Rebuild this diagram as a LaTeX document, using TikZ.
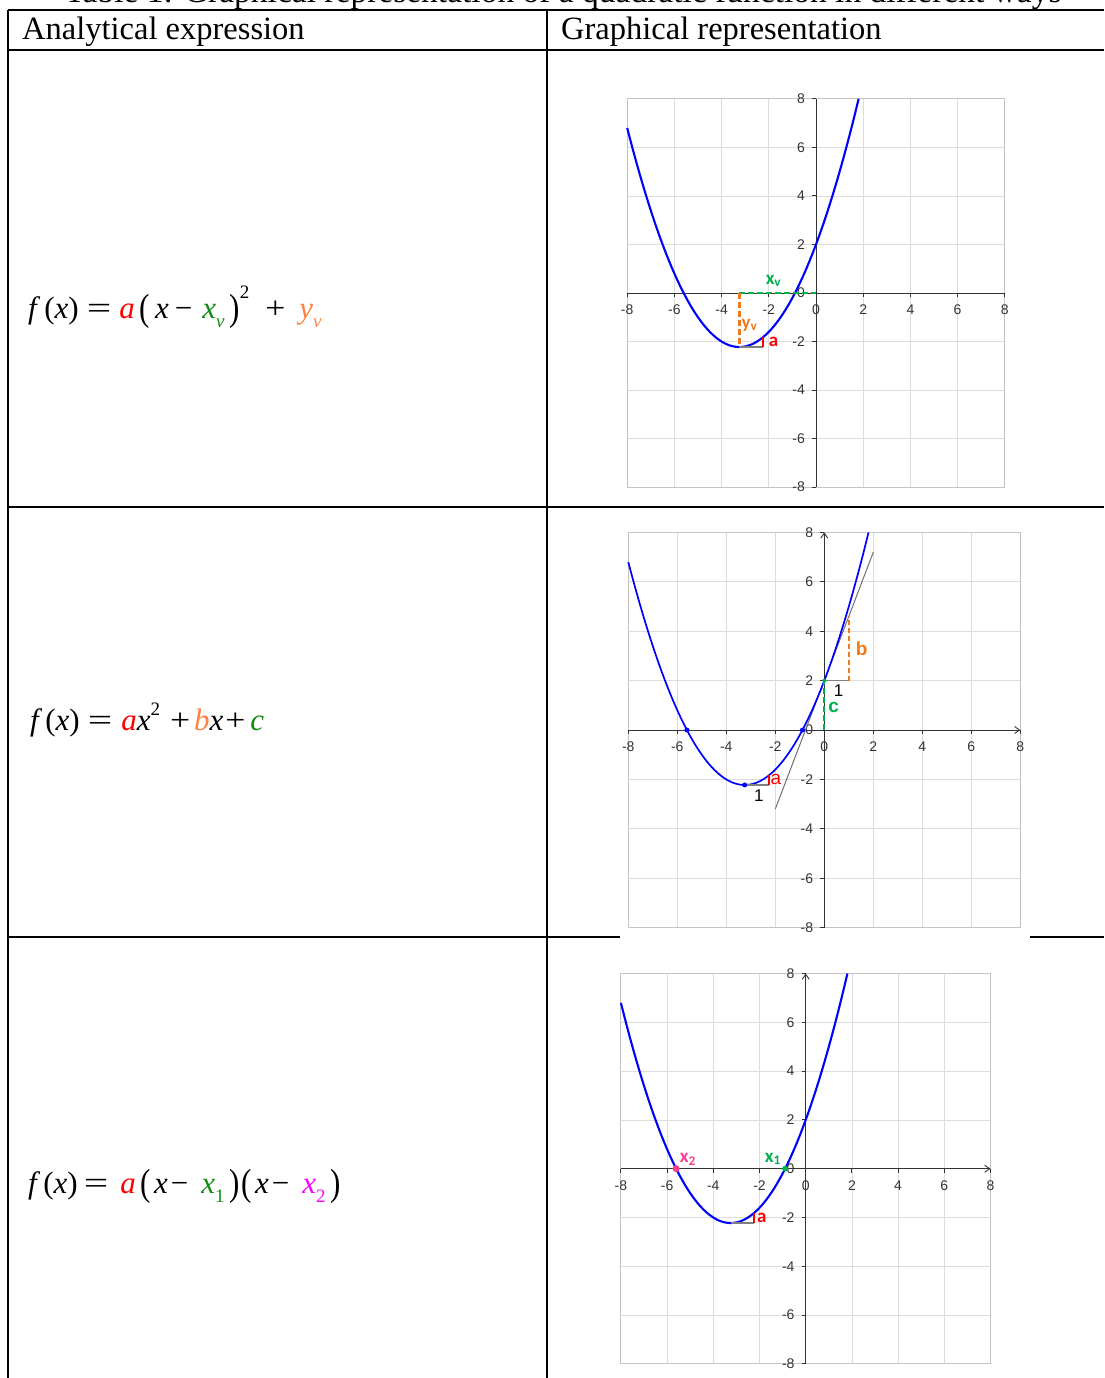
\documentclass[tikz,border=0pt]{standalone}
\usepackage{fontspec}
\usepackage{graphicx}
\setmainfont{Liberation Serif}
\newfontfamily\grf{Liberation Sans}
\newfontfamily\carl{Carlito}
\usetikzlibrary{arrows.meta}
\definecolor{gridc}{HTML}{DCDCDC}
\definecolor{boxc}{HTML}{C4C4C4}
\definecolor{axc}{HTML}{333333}
\definecolor{gG}{HTML}{00B050}
\definecolor{gO}{HTML}{EE7A1C}
\definecolor{gP}{HTML}{FF3C8C}
\definecolor{fG}{HTML}{138A13}
\definecolor{fO}{HTML}{FF8040}
\definecolor{fM}{HTML}{FF00FF}
\definecolor{tang}{HTML}{707070}
\newcommand\sbs[1]{\raisebox{-0.3em}{\fontsize{19}{19}\selectfont #1}}
\newcommand\sps[2]{\raisebox{#1}{\fontsize{19}{19}\selectfont #2}}
\newcommand\bigpar[1]{\raisebox{-0.07em}{\scalebox{1}[1.22]{#1}}}
\newcommand\eqs{\scalebox{1.4}[1]{=}}
\newcommand\pls{\scalebox{1.15}[1]{+}}
\newcommand\gridbox{%
  \foreach \t in {-6,-4,...,6}{\draw[gridline] (\t,-8) -- (\t,8); \draw[gridline] (-8,\t) -- (8,\t);}
  \draw[boxline] (-8,-8) rectangle (8,8);}
\newcommand\ticklabels[1]{%
  \foreach \t in {-8,-6,...,8}{
    \draw[axline] (\t,0) -- ++(0pt,-4pt);
    \draw[axline] (0,\t) -- ++(-4pt,0pt);
    \node[ticklab] (#1x\t) at ([yshift=-17pt]\t,0) {\t};
    \node[ticklab, anchor=east] (#1y\t) at ([xshift=-11pt]0,\t) {\t};}}
\begin{document}
\begin{tikzpicture}[x=1pt,y=-1pt,
  tline/.style={line width=1.7pt, black},
  gridline/.style={draw=gridc, line width=0.8pt},
  boxline/.style={draw=boxc, line width=1pt},
  axline/.style={draw=axc, line width=0.9pt},
  curve/.style={draw=blue, line width=2.1pt},
  ticklab/.style={font=\grf\fontsize{14}{14}\selectfont, text=axc, inner sep=0pt},
  hdr/.style={font=\fontsize{32.5}{32.5}\selectfont, anchor=base west, inner sep=0pt},
  fml/.style={font=\fontsize{31}{31}\selectfont, anchor=base west, inner sep=0pt},
  lbl/.style={font=\carl\bfseries\fontsize{19}{19}\selectfont, inner sep=0pt},
  alb/.style={font=\grf\fontsize{17}{17}\selectfont, inner sep=0pt},
  gdash/.style={draw=gG, line width=2.4pt, dash pattern=on 6pt off 3pt},
  odash/.style={draw=gO, line width=2.4pt, dash pattern=on 6pt off 3pt},
  runl/.style={draw=gray, line width=1.2pt},
  risel/.style={draw=red, line width=2pt},
  dot/.style={circle, inner sep=0pt, minimum size=5pt},
]
\useasboundingbox (0,0) rectangle (1104,1378);
\clip (0,0) rectangle (1104,1378);
% caption (cut off at top)
\node[font=\fontsize{33.5}{33.5}\selectfont, anchor=base, inner sep=0pt] (cap) at (563,3) {Table 1: Graphical representation of a quadratic function in different ways};
% table rules
\draw[tline] (8,10) -- (1104,10);
\draw[tline] (8,50) -- (1104,50);
\draw[tline] (8,507) -- (1104,507);
\draw[tline] (8,937) -- (620,937);
\draw[tline] (1030,937) -- (1104,937);
\draw[tline] (8,10) -- (8,1378);
\draw[tline] (547,10) -- (547,1378);
\node[hdr] (h1) at (22,40) {Analytical expression};
\node[hdr] (h2) at (561,40) {Graphical representation};
% formulas
\node[fml] (f1) at (28,318) {\textit{f}\hspace{4pt}(\textit{x})\hspace{8pt}\eqs\hspace{8pt}\textcolor{red}{\textit{a}}\hspace{5pt}\bigpar{(}\hspace{5pt}\textit{x}\hspace{6pt}−\hspace{10pt}\textcolor{fG}{\textit{x}\sbs{\textit{v}}}\hspace{5pt}\bigpar{)}\sps{0.62em}{2}\hspace{16pt}\pls\hspace{14pt}\textcolor{fO}{\textit{y}\sbs{\textit{v}}}};
\node[fml] (f2) at (30,730) {\textit{f}\hspace{3pt}(\textit{x})\hspace{8pt}\eqs\hspace{9pt}\textcolor{red}{\textit{a}}\textit{x}\sps{0.48em}{2}\hspace{10pt}\pls\hspace{4pt}\textcolor{fO}{\textit{b}}\textit{x}\hspace{2pt}\pls\hspace{5pt}\textcolor{fG}{\textit{c}}};
\node[fml] (f3) at (28,1193) {\textit{f}\hspace{3pt}(\textit{x})\hspace{6pt}\eqs\hspace{12pt}\textcolor{red}{\textit{a}}\hspace{5pt}\bigpar{(}\hspace{3pt}\textit{x}\hspace{3pt}−\hspace{13pt}\textcolor{fG}{\textit{x}\sbs{1}}\hspace{5pt}\bigpar{)}\hspace{2pt}\bigpar{(}\hspace{3pt}\textit{x}\hspace{3pt}−\hspace{13pt}\textcolor{fM}{\textit{x}\sbs{2}}\hspace{5pt}\bigpar{)}};
% ---------- graph 1
\begin{scope}[shift={(816pt,-293pt)}, x=23.6pt, y=24.27pt]
  \gridbox
  \draw[axline] (-8,0) -- (8,0);
  \draw[axline] (0,-8) -- (0,8);
  \ticklabels{ga}
  \draw[curve] plot[domain=-8:1.806, samples=120, smooth] (\x,{0.4*\x*\x+2.6*\x+2});
  \coordinate (av) at (-3.25,-2.225);
  \coordinate (ax) at (-3.25,0);
  \coordinate (ao) at (0,0);
  \coordinate (ar) at (-2.25,-2.225);
  \coordinate (au) at (-2.25,-1.825);
  \draw[gdash] (ax) -- (ao);
  \draw[odash] (ax) -- (av);
  \draw[runl] (av) -- (ar);
  \draw[risel] (ar) -- (au);
  \node[lbl, text=gG] (axv) at (-1.8,0.5) {x\textsubscript{v}};
  \node[lbl, text=gO] (ayv) at (-2.82,-1.32) {y\textsubscript{v}};
  \node[lbl, text=red] (aa) at (-1.8,-2.0) {a};
\end{scope}
% ---------- graph 2
\begin{scope}[shift={(824.3pt,-730pt)}, x=24.5pt, y=24.7pt]
  \gridbox
  \draw[axline, -{Straight Barb[length=5pt,width=7pt]}] (-8,0) -- (8,0);
  \draw[axline, -{Straight Barb[length=5pt,width=7pt]}] (0,-8) -- (0,8);
  \ticklabels{gb}
  \draw[draw=tang, line width=1pt] (-2,-3.2) -- (2,7.2);
  \draw[curve, line width=1.7pt] plot[domain=-8:1.806, samples=120, smooth] (\x,{0.4*\x*\x+2.6*\x+2});
  \coordinate (bv) at (-3.25,-2.225);
  \coordinate (br) at (-2.25,-2.225);
  \coordinate (bu) at (-2.25,-1.825);
  \coordinate (bo) at (0,0);
  \coordinate (bc) at (0,2);
  \coordinate (b1) at (1,2);
  \coordinate (bt) at (1,4.6);
  \draw[gdash, line width=2.2pt] (bo) -- (bc);
  \draw[runl] (bc) -- (b1);
  \draw[odash, line width=1.8pt, dash pattern=on 5pt off 3pt] (b1) -- (bt);
  \draw[runl] (bv) -- (br);
  \draw[risel] (br) -- (bu);
  \node[dot, fill=blue] (bd1) at (-5.609,0) {};
  \node[dot, fill=blue] (bd2) at (-0.891,0) {};
  \node[dot, fill=blue] (bd3) at (bv) {};
  \node[dot, fill=gG, minimum size=4pt] (bd4) at (bc) {};
  \node[alb, text=gO, font=\grf\bfseries\fontsize{19}{19}\selectfont] (bb) at (1.53,3.3) {b};
  \node[alb, text=black] (bn1) at (0.58,1.58) {1};
  \node[alb, text=gG, font=\grf\bfseries\fontsize{19}{19}\selectfont] (bcc) at (0.38,0.9) {c};
  \node[alb, text=red, font=\grf\fontsize{19}{19}\selectfont] (ba) at (-1.98,-2.02) {a};
  \node[alb, text=black] (bn2) at (-2.67,-2.65) {1};
\end{scope}
% ---------- graph 3
\begin{scope}[shift={(805.7pt,-1168.7pt)}, x=23.1pt, y=24.4pt]
  \gridbox
  \draw[axline, -{Straight Barb[length=5pt,width=7pt]}] (-8,0) -- (8,0);
  \draw[axline, -{Straight Barb[length=5pt,width=7pt]}] (0,-8) -- (0,8);
  \ticklabels{gc}
  \draw[curve] plot[domain=-8:1.806, samples=120, smooth] (\x,{0.4*\x*\x+2.6*\x+2});
  \coordinate (cv) at (-3.25,-2.225);
  \coordinate (cr) at (-2.25,-2.225);
  \coordinate (cu) at (-2.25,-1.825);
  \draw[runl] (cv) -- (cr);
  \draw[risel] (cr) -- (cu);
  \node[dot, fill=gP, minimum size=7pt] (cd2) at (-5.609,0) {};
  \node[dot, fill=gG, minimum size=6pt] (cd1) at (-0.891,0) {};
  \node[lbl, text=gP] (cx2) at (-5.1,0.38) {x\textsubscript{2}};
  \node[lbl, text=gG] (cx1) at (-1.42,0.4) {x\textsubscript{1}};
  \node[lbl, text=red] (ca) at (-1.9,-2.02) {a};
\end{scope}
\end{tikzpicture}
\end{document}
